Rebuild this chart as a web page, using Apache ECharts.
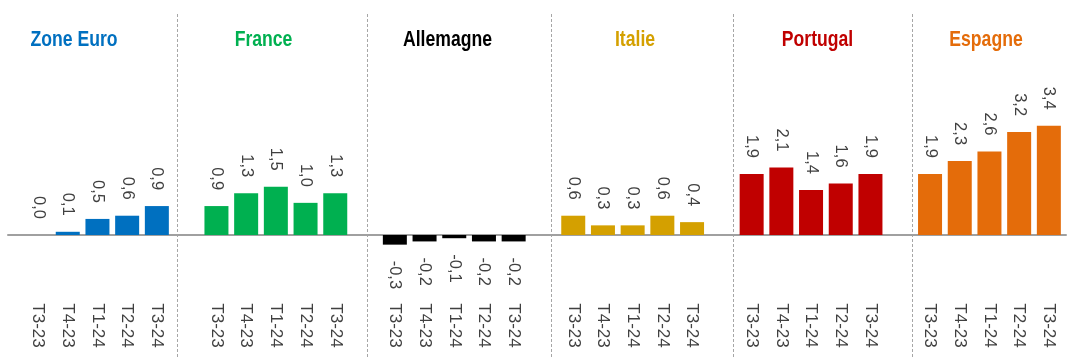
<!DOCTYPE html>
<html>
<head>
<meta charset="utf-8">
<script src="https://cdn.jsdelivr.net/npm/echarts@6/dist/echarts.min.js"></script>
<style>html,body{margin:0;padding:0;background:#fff}#c{width:1068px;height:358px}</style>
</head>
<body>
<div id="c"></div>
<script>
const categories = ['T3-23', 'T4-23', 'T1-24', 'T2-24', 'T3-24'];
const zoneEuro = [0.0, 0.1, 0.5, 0.6, 0.9];
const france = [0.9, 1.3, 1.5, 1.0, 1.3];
const allemagne = [-0.3, -0.2, -0.1, -0.2, -0.2];
const italie = [0.6, 0.3, 0.3, 0.6, 0.4];
const portugal = [1.9, 2.1, 1.4, 1.6, 1.9];
const espagne = [1.9, 2.3, 2.6, 3.2, 3.4];
const panelNames = ['Zone Euro', 'France', 'Allemagne', 'Italie', 'Portugal', 'Espagne'];

const panelValues = [zoneEuro, france, allemagne, italie, portugal, espagne];
const colors = ['#0070C0', '#00B050', '#000000', '#D4A000', '#C00000', '#E46C0A'];
const titleCenters = [74, 263.5, 447.5, 635, 817.5, 986];
const separators = [177, 367, 551, 733, 912];

const Y_MIN = -2, Y_MAX = 4;
const GRID_TOP = 106.4, GRID_BOTTOM = 58.7;
const GRID_W = 148.5;
const textColor = '#404040';
const font = "'Liberation Sans', Arial, sans-serif";

const grids = [], xAxes = [], yAxes = [], series = [];
panelValues.forEach((vals, i) => {
  grids.push({ left: 23.2 + i * 178.4, width: GRID_W, top: GRID_TOP, bottom: GRID_BOTTOM });
  xAxes.push({
    type: 'category', gridIndex: i, data: categories,
    axisLine: { show: false, onZero: false }, axisTick: { show: false },
    axisLabel: { rotate: -90, fontSize: 17, color: textColor, fontFamily: font, margin: 4 }
  });
  yAxes.push({ type: 'value', gridIndex: i, min: Y_MIN, max: Y_MAX, show: false, splitLine: { show: false } });
  series.push({
    type: 'bar', xAxisIndex: i, yAxisIndex: i, barWidth: 24,
    itemStyle: { color: colors[i] },
    data: vals.map(v => ({
      value: v,
      label: v < 0
        ? { position: 'bottom', align: 'left', verticalAlign: 'middle' }
        : { position: 'top', align: 'right', verticalAlign: 'middle' }
    })),
    label: {
      show: true, rotate: -90, distance: 16, fontSize: 16.5, color: textColor, fontFamily: font,
      formatter: p => p.value.toFixed(1).replace('.', ',')
    }
  });
});

// continuous baseline across all panels
grids.push({ left: 8, right: 2, top: GRID_TOP, bottom: GRID_BOTTOM });
xAxes.push({ type: 'value', gridIndex: 6, min: 0, max: 1, axisLine: { show: true, onZero: true, lineStyle: { color: '#A0A0A0', width: 2 } },
  axisTick: { show: false }, axisLabel: { show: false }, splitLine: { show: false } });
yAxes.push({ type: 'value', gridIndex: 6, min: Y_MIN, max: Y_MAX, show: false, splitLine: { show: false } });

const graphic = separators.map(x => ({
  type: 'line', z: -1,
  shape: { x1: x + 0.5, y1: 14, x2: x + 0.5, y2: 358 },
  style: { stroke: '#A6A6A6', lineWidth: 1, lineDash: [3, 2] }
}));
panelNames.forEach((name, i) => {
  graphic.push({
    type: 'text', x: titleCenters[i], y: 40, scaleX: 0.8,
    style: { text: name, fill: colors[i], fontSize: 22, fontWeight: 'bold',
      fontFamily: font, align: 'center', verticalAlign: 'middle' }
  });
});

const chart = echarts.init(document.getElementById('c'), null, { renderer: 'canvas' });
chart.setOption({
  animation: false,
  grid: grids, xAxis: xAxes, yAxis: yAxes, series: series,
  graphic: graphic
});
</script>
</body>
</html>
